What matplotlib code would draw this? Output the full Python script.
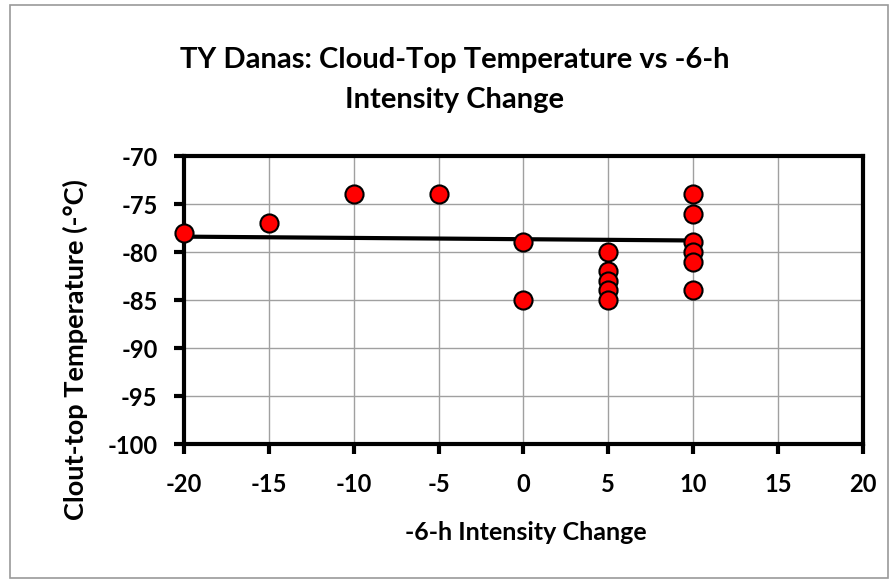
import matplotlib
matplotlib.use("Agg")
import matplotlib.pyplot as plt
from matplotlib.patches import FancyBboxPatch

plt.rcParams['font.family'] = ['Lato', 'DejaVu Sans']
plt.rcParams['axes.unicode_minus'] = False

# Intensity change (kt over previous 6 h) and cloud-top temperature (°C)
intensity_change = [-20, -15, -10, -5, 0, 0, 5, 5, 5, 5, 5, 10, 10, 10, 10, 10, 10]
cloud_top_temp = [-78, -77, -74, -74, -79, -85, -80, -82, -83, -84, -85,
                  -74, -76, -79, -80, -81, -84]

# Linear trend line endpoints
trend_x = [-20, 10]
trend_y = [-78.4, -78.8]

x_ticks = [-20, -15, -10, -5, 0, 5, 10, 15, 20]
y_ticks = [-100, -95, -90, -85, -80, -75, -70]

fig = plt.figure(figsize=(8.95, 5.83), dpi=100)
fig.patch.set_facecolor('white')

# chart frame
frame = FancyBboxPatch((10 / 895, 1 - 578 / 583), 878 / 895, 573 / 583,
                       boxstyle="square,pad=0", transform=fig.transFigure,
                       facecolor='none', edgecolor='#9a9a9a', linewidth=1.2)
fig.patches.append(frame)

ax = fig.add_axes([184 / 895, 1 - 444 / 583, (863 - 184) / 895, (444 - 156) / 583])
ax.set_xlim(-20, 20)
ax.set_ylim(-100, -70)
ax.set_xticks(x_ticks)
ax.set_yticks(y_ticks)
ax.grid(True, color='#a0a0a0', linewidth=1.0)
ax.set_axisbelow(True)
for s in ax.spines.values():
    s.set_linewidth(3)
    s.set_color('black')
ax.tick_params(axis='both', which='major', length=7, width=3, color='black',
               labelsize=17)
ax.tick_params(axis='x', pad=14)
ax.tick_params(axis='y', pad=12)
for lbl in ax.get_xticklabels() + ax.get_yticklabels():
    lbl.set_fontweight('bold')

ax.plot(trend_x, trend_y, color='black', linewidth=3, zorder=3)
ax.scatter(intensity_change, cloud_top_temp, s=170, c='#ff0000',
           edgecolors='black', linewidths=1.5, zorder=4, clip_on=False)

fig.text(455 / 895, 1 - 60 / 583, "TY Danas: Cloud-Top Temperature vs -6-h",
         ha='center', va='center', fontsize=21, fontweight='bold')
fig.text(455 / 895, 1 - 100 / 583, "Intensity Change",
         ha='center', va='center', fontsize=21, fontweight='bold')

fig.text(526 / 895, 1 - 533 / 583, "-6-h Intensity Change",
         ha='center', va='center', fontsize=18, fontweight='bold')
fig.text(75 / 895, 1 - 350 / 583, "Clout-top Temperature (-°C)", rotation=90,
         ha='center', va='center', fontsize=19.5, fontweight='bold')

fig.savefig("out.png", dpi=100)
